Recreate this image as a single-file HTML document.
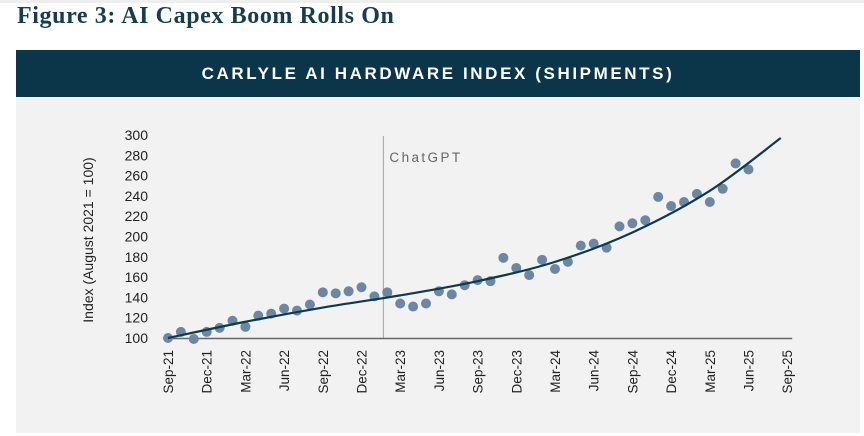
<!DOCTYPE html>
<html><head><meta charset="utf-8"><style>
body{margin:0;width:864px;height:436px;background:#fff;overflow:hidden;font-family:"Liberation Sans",sans-serif}
#top{position:absolute;left:0;top:0;width:864px;height:3px;background:#eee}
#title{position:absolute;left:17px;top:3px;font:bold 24px "Liberation Serif",serif;letter-spacing:0.6px;color:#163d4f}
#band{position:absolute;left:16px;top:50px;width:844px;height:47px;background:#0b364a;color:#fff;font-weight:bold;font-size:17px;letter-spacing:2.6px;text-align:center;line-height:47px}
#panel{position:absolute;left:16px;top:97px;width:844px;height:336px;background:#f2f2f2}
svg{position:absolute;left:0;top:0}
</style></head><body>
<div id="top"></div>
<div id="title">Figure 3: AI Capex Boom Rolls On</div>
<div id="band">CARLYLE AI HARDWARE INDEX (SHIPMENTS)</div>
<div id="panel"></div>
<svg id="chart" width="864" height="436"></svg>
<script>
const values=[100,106,99,106,110,117,111,122,124,129,127,133,145,144,146,150,141,145,134,131,134,146,143,152,157,156,179,169,162,177,168,175,191,193,189,210,213,216,239,230,234,242,234,247,272,266];
const trendMonths=[0,6,12,18,24,30,36,42,47.5];
const trendValues=[100,116,130,142,156,175,204,245,297];
const yTicks=[100,120,140,160,180,200,220,240,260,280,300];
const xLabels=["Sep-21","Dec-21","Mar-22","Jun-22","Sep-22","Dec-22","Mar-23","Jun-23","Sep-23","Dec-23","Mar-24","Jun-24","Sep-24","Dec-24","Mar-25","Jun-25","Sep-25"];
const chatgptMonth=16.7;
const NS="http://www.w3.org/2000/svg";
const svg=document.getElementById('chart');
const x=m=>168+m*12.9;
const y=v=>338-(v-100)*1.015;
function el(t,a,txt){const e=document.createElementNS(NS,t);for(const k in a)e.setAttribute(k,a[k]);if(txt!==undefined)e.textContent=txt;svg.appendChild(e);return e;}
yTicks.forEach(v=>{const t=el('text',{x:148,y:y(v)+5,'text-anchor':'end','font-size':'14','fill':'#222'},v);

});
xLabels.forEach((l,i)=>{const px=x(i*3)+5;const t=el('text',{x:0,y:0,transform:`translate(${px},350) rotate(-90)`,'text-anchor':'end','font-size':'13.5','fill':'#222'},l);

});
const yt=el('text',{x:0,y:0,transform:'translate(93,240) rotate(-90)','text-anchor':'middle','font-size':'14','fill':'#222'},'Index (August 2021 = 100)');


const vl=el('line',{x1:x(chatgptMonth),x2:x(chatgptMonth),y1:136,y2:338,stroke:'#9fb3c3','stroke-width':1.2});


const ct=el('text',{x:x(chatgptMonth)+6,y:162,'font-size':'13.5','fill':'#666','letter-spacing':'2.4'},'ChatGPT');


const ax=el('line',{x1:x(0),x2:x(48)+5,y1:338.5,y2:338.5,stroke:'#666','stroke-width':1.6});


values.forEach((v,i)=>{const c=el('circle',{cx:x(i),cy:y(v),r:5,fill:'#6b87a3'});

});
const P=trendMonths.map((m,i)=>[x(m),y(trendValues[i])]);
let d=`M${P[0][0]},${P[0][1]}`;
for(let i=0;i<P.length-1;i++){const p0=P[i-1]||P[i],p1=P[i],p2=P[i+1],p3=P[i+2]||p2;
d+=` C${p1[0]+(p2[0]-p0[0])/6},${p1[1]+(p2[1]-p0[1])/6} ${p2[0]-(p3[0]-p1[0])/6},${p2[1]-(p3[1]-p1[1])/6} ${p2[0]},${p2[1]}`;}
const tl=el('path',{d:d,fill:'none',stroke:'#0e3a4e','stroke-width':2.2});


</script>
</body></html>
